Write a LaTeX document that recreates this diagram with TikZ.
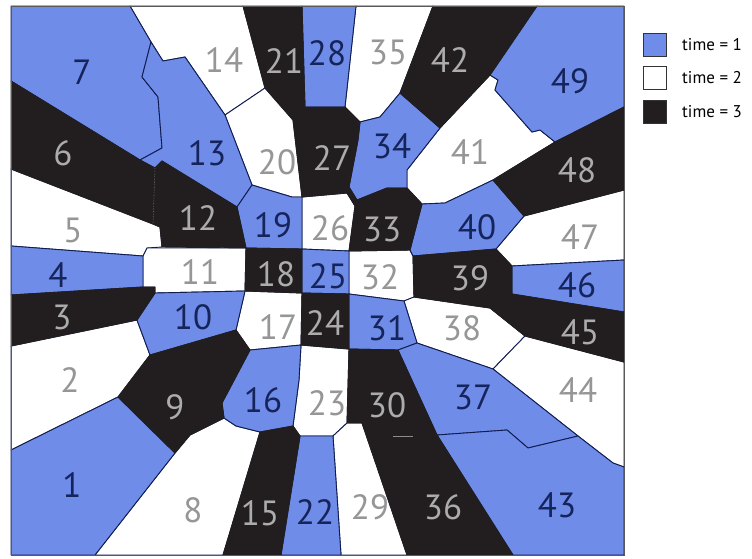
\documentclass[tikz,border=0pt]{standalone}
\usepackage{fontspec}
\setmainfont{PT Sans}
\definecolor{timeblue}{RGB}{110,140,232}
\definecolor{timeblack}{RGB}{34,30,31}
\definecolor{edgenavy}{RGB}{16,28,80}
\definecolor{labnavy}{RGB}{22,36,92}
\definecolor{labgray}{RGB}{150,150,150}
\definecolor{labpale}{RGB}{172,172,172}
\tikzset{
  tone1/.style={fill=timeblue, draw=edgenavy, line width=0.9pt, line join=round},
  tone2/.style={fill=white, draw=edgenavy, line width=0.9pt, line join=round},
  tone3/.style={fill=timeblack, draw=timeblack, line width=0.9pt, line join=round},
  lab/.style={font=\fontsize{35}{35}\selectfont, inner sep=0pt},
  lab1/.style={lab, text=labnavy},
  lab2/.style={lab, text=labgray},
  lab3/.style={lab, text=labpale},
  legendbox/.style={draw=black!80, line width=0.8pt, minimum size=23pt, inner sep=0pt},
  legendtext/.style={font=\fontsize{17}{17}\selectfont, anchor=west, inner sep=0pt}
}
\begin{document}
\begin{tikzpicture}[x=1pt, y=-1pt]
\useasboundingbox (0,0) rectangle (752,558);
% white cells (time = 2)
\draw[tone2] (11,346) -- (137,320) -- (150,355) -- (118,397) -- (11,450) -- cycle;
\draw[tone2] (11,169) -- (153,224) -- (160,227) -- (162,247) -- (147,248) -- (143,256) -- (11,246) -- cycle;
\draw[tone2] (95,555) -- (175,453) -- (190,435) -- (224,418) -- (236,426) -- (260,432) -- (223,555) -- cycle;
\draw[tone2] (147,248) -- (246,248) -- (245,291) -- (155,293) -- (155,287) -- (143,287) -- (143,256) -- cycle;
\draw[tone2] (130,6) -- (243,6) -- (265,88) -- (225,115) -- (185,57) -- (163,61) -- (151,42) -- cycle;
\draw[tone2] (245,291) -- (302,293) -- (301,345) -- (250,350) -- (236,330) -- cycle;
\draw[tone2] (225,115) -- (265,88) -- (293,120) -- (302,197) -- (292,197) -- (252,185) -- cycle;
\draw[tone2] (301,345) -- (349,349) -- (347,423) -- (333,436) -- (300,436) -- (293,426) -- (299,380) -- cycle;
\draw[tone2] (302,197) -- (347,193) -- (355,206) -- (349,251) -- (302,249) -- cycle;
\draw[tone2] (333,436) -- (347,423) -- (362,423) -- (407,555) -- (341,555) -- cycle;
\draw[tone2] (349,251) -- (410,250) -- (413,256) -- (414,297) -- (404,301) -- (349,294) -- cycle;
\draw[tone2] (356,6) -- (433,6) -- (400,93) -- (380,117) -- (360,122) -- (345,107) -- cycle;
\draw[tone2] (404,301) -- (414,297) -- (490,308) -- (525,336) -- (493,369) -- (417,343) -- cycle;
\draw[tone2] (407,170) -- (440,128) -- (490,75) -- (498,80) -- (495,90) -- (532,132) -- (540,130) -- (555,142) -- (493,180) -- (445,203) -- (422,204) -- (407,188) -- cycle;
\draw[tone2] (493,369) -- (525,336) -- (624,362) -- (624,467) -- (613,463) -- (578,436) -- cycle;
\draw[tone2] (496,249) -- (524,216) -- (624,190) -- (624,260) -- (512,266) -- cycle;
% blue cells (time = 1)
\draw[tone1] (11,450) -- (118,397) -- (175,453) -- (95,555) -- (11,555) -- cycle;
\draw[tone1] (11,246) -- (143,256) -- (143,287) -- (11,295) -- cycle;
\draw[tone1] (11,6) -- (130,6) -- (151,42) -- (142,77) -- (158,97) -- (162,148) -- (140,160) -- (11,81) -- cycle;
\draw[tone1] (155,293) -- (245,291) -- (236,330) -- (150,355) -- (137,320) -- cycle;
\draw[tone1] (151,42) -- (163,61) -- (185,57) -- (225,115) -- (252,185) -- (237,207) -- (162,161) -- (155,168) -- (140,160) -- (162,148) -- (158,97) -- (142,77) -- cycle;
\draw[tone1] (250,350) -- (301,345) -- (299,380) -- (293,426) -- (260,432) -- (236,426) -- (224,418) -- (222,403) -- cycle;
\draw[tone1] (237,207) -- (252,185) -- (292,197) -- (302,197) -- (302,249) -- (246,248) -- cycle;
\draw[tone1] (300,436) -- (333,436) -- (341,555) -- (281,555) -- cycle;
\draw[tone1] (302,249) -- (349,251) -- (349,294) -- (302,293) -- cycle;
\draw[tone1] (302,6) -- (356,6) -- (345,107) -- (305,107) -- cycle;
\draw[tone1] (349,294) -- (404,301) -- (417,343) -- (398,350) -- (349,349) -- cycle;
\draw[tone1] (360,122) -- (380,117) -- (400,93) -- (440,128) -- (407,170) -- (407,188) -- (387,188) -- (357,200) -- (349,187) -- (358,140) -- cycle;
\draw[tone1] (398,350) -- (417,343) -- (493,369) -- (578,436) -- (528,448) -- (507,430) -- (437,435) -- cycle;
\draw[tone1] (410,250) -- (422,204) -- (445,203) -- (493,180) -- (524,216) -- (496,249) -- (413,256) -- cycle;
\draw[tone1] (437,435) -- (507,430) -- (528,448) -- (578,436) -- (613,463) -- (624,467) -- (624,555) -- (513,555) -- cycle;
\draw[tone1] (512,266) -- (624,260) -- (624,312) -- (512,294) -- cycle;
\draw[tone1] (537,6) -- (624,6) -- (624,107) -- (555,142) -- (540,130) -- (532,132) -- (495,90) -- (498,80) -- (490,75) -- cycle;
% black cells (time = 3)
\draw[tone3] (11,295) -- (143,287) -- (155,287) -- (155,293) -- (137,320) -- (11,346) -- cycle;
\draw[tone3] (11,81) -- (140,160) -- (155,168) -- (153,224) -- (11,169) -- cycle;
\draw[tone3] (118,397) -- (150,355) -- (236,330) -- (250,350) -- (222,403) -- (224,418) -- (190,435) -- (175,453) -- cycle;
\draw[tone3] (155,168) -- (162,161) -- (237,207) -- (246,248) -- (162,247) -- (160,227) -- (153,224) -- cycle;
\draw[tone3] (223,555) -- (260,432) -- (293,426) -- (300,436) -- (281,555) -- cycle;
\draw[tone3] (246,248) -- (302,249) -- (302,293) -- (245,291) -- cycle;
\draw[tone3] (243,6) -- (302,6) -- (305,107) -- (293,120) -- (265,88) -- cycle;
\draw[tone3] (302,293) -- (349,294) -- (349,349) -- (301,345) -- cycle;
\draw[tone3] (293,120) -- (305,107) -- (345,107) -- (360,122) -- (358,140) -- (349,187) -- (357,200) -- (355,206) -- (347,193) -- (302,197) -- cycle;
\draw[tone3] (349,349) -- (398,350) -- (437,435) -- (362,423) -- (347,423) -- cycle;
\draw[tone3] (357,200) -- (387,188) -- (407,188) -- (422,204) -- (410,250) -- (349,251) -- (355,206) -- cycle;
\draw[tone3] (362,423) -- (437,435) -- (513,555) -- (407,555) -- cycle;
\draw[tone3] (413,256) -- (496,249) -- (512,266) -- (512,294) -- (490,308) -- (414,297) -- cycle;
\draw[tone3] (433,6) -- (537,6) -- (490,75) -- (440,128) -- (400,93) -- cycle;
\draw[tone3] (490,308) -- (512,294) -- (624,312) -- (624,362) -- (525,336) -- cycle;
\draw[tone3] (493,180) -- (555,142) -- (624,107) -- (624,190) -- (524,216) -- cycle;
% faint seams inside the black
\draw[black!55, densely dotted, line width=0.6pt] (155,168) -- (153,224);
\draw[black!45, line width=0.8pt] (393,436) -- (413,436);
% frame
\draw[black!65, line width=1pt] (11,6) rectangle (624,555);
% cell numbers
\foreach \n/\x/\y in {1/72/485, 4/58/275, 7/82/72, 10/193/317, 13/207/153, 16/263/400,
  19/273/225, 22/315/512, 25/328/276, 28/327/53, 31/387/328, 34/392/146, 37/473/397,
  40/477/227, 43/557/505, 46/577/285, 49/570/81}
  \node[lab1] (r\n) at (\x,\y) {\n};
\foreach \n/\x/\y in {2/70/380, 5/73/230, 8/193/510, 11/200/272, 14/224/60, 17/278/327,
  20/277/162, 23/327/403, 26/330/228, 29/370/507, 32/380/277, 35/388/52, 38/462/328,
  41/470/152, 44/578/390, 47/580/237}
  \node[lab2] (r\n) at (\x,\y) {\n};
\foreach \n/\x/\y in {3/62/317, 6/63/153, 9/175/407, 12/198/218, 15/260/513, 18/276/274,
  21/284/61, 24/325/323, 27/332/158, 30/387/405, 33/382/229, 36/443/507, 39/470/278,
  42/450/60, 45/580/332, 48/577/170}
  \node[lab3] (r\n) at (\x,\y) {\n};
% legend
\node[legendbox, fill=timeblue] (k1) at (655,45) {};
\node[legendbox, fill=white] (k2) at (655,78) {};
\node[legendbox, fill=timeblack] (k3) at (655,112) {};
\node[legendtext] (t1) at (682,45) {time = 1};
\node[legendtext] (t2) at (682,78) {time = 2};
\node[legendtext] (t3) at (682,112) {time = 3};
\end{tikzpicture}
\end{document}
